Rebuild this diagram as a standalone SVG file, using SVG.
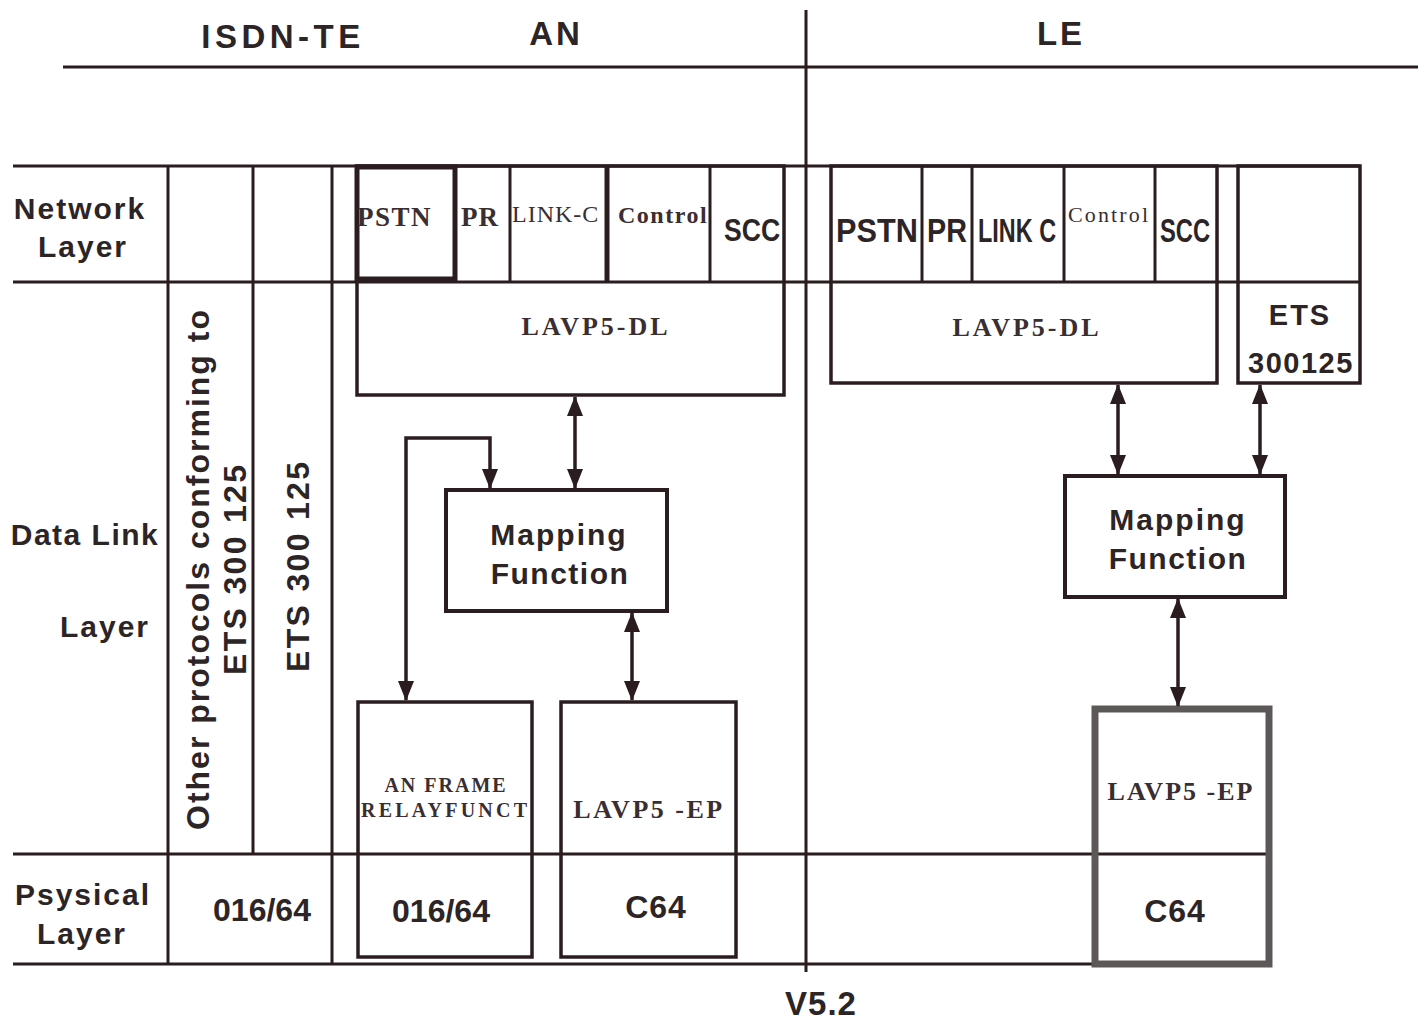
<svg xmlns="http://www.w3.org/2000/svg" width="1426" height="1022" viewBox="0 0 1426 1022">
<defs>
<style>
.ln{stroke:#2b1d1f;stroke-width:3;fill:none}
.bx{stroke:#2b1d1f;stroke-width:3.5;fill:none}
.sans{font-family:"Liberation Sans",Arial,sans-serif;font-weight:bold;fill:#2d2426}
.serif{font-family:"Liberation Serif","Times New Roman",serif;font-weight:bold;fill:#3a2e30}
.serifl{font-family:"Liberation Serif","Times New Roman",serif;fill:#3a2e30}
.mid{text-anchor:middle}
.cn{stroke:#2b1d1f;stroke-width:3.5;fill:none;marker-start:url(#ah);marker-end:url(#ah)}
</style>
<marker id="ah" viewBox="0 0 20 16" refX="19" refY="8" markerWidth="20" markerHeight="16" markerUnits="userSpaceOnUse" orient="auto-start-reverse">
<path d="M0,0 L20,8 L0,16 z" fill="#2b1d1f"/>
</marker>
</defs>
<rect width="1426" height="1022" fill="#ffffff"/>

<g id="headers">
<text class="sans mid" x="283" y="48" font-size="33" letter-spacing="4.5">ISDN-TE</text>
<text class="sans mid" x="556" y="45" font-size="33" letter-spacing="3">AN</text>
<text class="sans mid" x="1061" y="45" font-size="33" letter-spacing="3">LE</text>
<text class="sans mid" x="821" y="1015" font-size="33" letter-spacing="1">V5.2</text>
</g>

<g id="grid">
<line class="ln" x1="63" y1="67" x2="1418" y2="67"/>
<line class="ln" x1="806" y1="10" x2="806" y2="972"/>
<line class="ln" x1="13" y1="166" x2="1360" y2="166"/>
<line class="ln" x1="13" y1="282" x2="1360" y2="282"/>
<line class="ln" x1="13" y1="854" x2="1270" y2="854"/>
<line class="ln" x1="13" y1="964" x2="1270" y2="964"/>
<line class="ln" x1="168" y1="166" x2="168" y2="964"/>
<line class="ln" x1="253" y1="166" x2="253" y2="854"/>
<line class="ln" x1="332" y1="166" x2="332" y2="964"/>
</g>

<g id="layer-labels">
<text class="sans mid" x="80" y="219" font-size="30" letter-spacing="2">Network</text>
<text class="sans mid" x="83" y="257" font-size="30" letter-spacing="2">Layer</text>
<text class="sans mid" x="85" y="545" font-size="30" letter-spacing="1.5">Data Link</text>
<text class="sans mid" x="105" y="637" font-size="30" letter-spacing="2">Layer</text>
<text class="sans mid" x="83" y="905" font-size="30" letter-spacing="2">Psysical</text>
<text class="sans mid" x="82" y="944" font-size="30" letter-spacing="2">Layer</text>
</g>

<g id="isdn-te">
<text class="sans mid" transform="translate(209,570) rotate(-90)" font-size="32" textLength="520" lengthAdjust="spacing">Other protocols conforming to</text>
<text class="sans mid" transform="translate(246,570) rotate(-90)" font-size="32" textLength="210" lengthAdjust="spacing">ETS 300 125</text>
<text class="sans mid" transform="translate(309,567) rotate(-90)" font-size="32" textLength="210" lengthAdjust="spacing">ETS 300 125</text>
<text class="sans mid" x="262" y="921" font-size="32">016/64</text>
</g>

<g id="an-network">
<rect class="bx" x="357" y="166" width="427" height="229"/>
<rect x="357" y="167" width="98" height="112" fill="none" stroke="#2b1d1f" stroke-width="5"/>
<line class="ln" x1="510" y1="166" x2="510" y2="282"/>
<line x1="607" y1="166" x2="607" y2="282" stroke="#2b1d1f" stroke-width="5"/>
<line class="ln" x1="710" y1="166" x2="710" y2="282"/>
<text class="serif" x="357" y="226" font-size="27" letter-spacing="1.5">PSTN</text>
<text class="serif" x="461" y="226" font-size="27" letter-spacing="1">PR</text>
<text class="serifl" x="512" y="222" font-size="24" letter-spacing="1">LINK-C</text>
<text class="serif" x="618" y="223" font-size="24" letter-spacing="1.5">Control</text>
<text class="sans" transform="translate(724,241) scale(0.83,1)" font-size="32">SCC</text>
<text class="serif mid" x="596" y="335" font-size="26" letter-spacing="3">LAVP5-DL</text>
</g>

<g id="an-mapping">
<rect x="446" y="490" width="221" height="121" fill="none" stroke="#2b1d1f" stroke-width="4"/>
<text class="sans mid" x="559" y="545" font-size="30" letter-spacing="2">Mapping</text>
<text class="sans mid" x="560" y="584" font-size="30" letter-spacing="1.5">Function</text>
</g>

<g id="an-frame">
<rect class="bx" x="358" y="702" width="174" height="255"/>
<text class="serif mid" x="446" y="792" font-size="20" letter-spacing="2">AN FRAME</text>
<text class="serif mid" x="444" y="817" font-size="20" textLength="166" lengthAdjust="spacing">RELAYFUNCT</text>
<text class="sans mid" x="441" y="922" font-size="32">016/64</text>
</g>

<g id="an-lavp5-ep">
<rect class="bx" x="561" y="702" width="175" height="255"/>
<text class="serif mid" x="649" y="818" font-size="26" letter-spacing="2.5">LAVP5 -EP</text>
<text class="sans mid" x="656" y="918" font-size="32" letter-spacing="1">C64</text>
</g>

<g id="le-network">
<rect class="bx" x="831" y="166" width="386" height="217"/>
<line class="ln" x1="922" y1="166" x2="922" y2="282"/>
<line class="ln" x1="972" y1="166" x2="972" y2="282"/>
<line class="ln" x1="1064" y1="166" x2="1064" y2="282"/>
<line class="ln" x1="1155" y1="166" x2="1155" y2="282"/>
<text class="sans" transform="translate(836,242) scale(0.93,1)" font-size="33">PSTN</text>
<text class="sans" transform="translate(927,242) scale(0.87,1)" font-size="33">PR</text>
<text class="sans" transform="translate(978,242) scale(0.71,1)" font-size="33">LINK C</text>
<text class="serifl" x="1068" y="222" font-size="22" textLength="80" lengthAdjust="spacing">Control</text>
<text class="sans" transform="translate(1160,242) scale(0.72,1)" font-size="33">SCC</text>
<text class="serif mid" x="1027" y="336" font-size="26" letter-spacing="3">LAVP5-DL</text>
</g>

<g id="le-ets">
<rect class="bx" x="1238" y="166" width="122" height="217"/>
<text class="sans mid" x="1300" y="325" font-size="29" letter-spacing="2">ETS</text>
<text class="sans mid" x="1301" y="373" font-size="29" letter-spacing="1.5">300125</text>
</g>

<g id="le-mapping">
<rect x="1065" y="476" width="220" height="121" fill="none" stroke="#2b1d1f" stroke-width="4"/>
<text class="sans mid" x="1178" y="530" font-size="30" letter-spacing="2">Mapping</text>
<text class="sans mid" x="1178" y="569" font-size="30" letter-spacing="1.5">Function</text>
</g>

<g id="le-lavp5-ep">
<rect x="1095" y="709" width="174" height="255" fill="none" stroke="#5c5858" stroke-width="7"/>
<text class="serif mid" x="1181" y="800" font-size="26" letter-spacing="2">LAVP5 -EP</text>
<text class="sans mid" x="1175" y="922" font-size="32" letter-spacing="1">C64</text>
</g>

<g id="connectors">
<line class="cn" x1="575" y1="397" x2="575" y2="488"/>
<path class="cn" d="M490,488 L490,438 L406,438 L406,700"/>
<line class="cn" x1="632" y1="613" x2="632" y2="700"/>
<line class="cn" x1="1118" y1="385" x2="1118" y2="474"/>
<line class="cn" x1="1260" y1="385" x2="1260" y2="474"/>
<line class="cn" x1="1178" y1="599" x2="1178" y2="706"/>
</g>
</svg>
